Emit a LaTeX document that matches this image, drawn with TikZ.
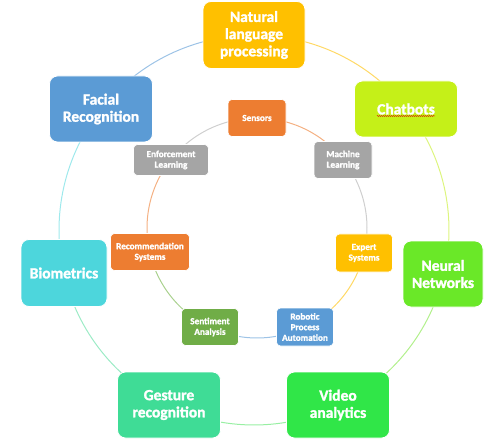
\documentclass[tikz,border=0pt]{standalone}
\usepackage{fontspec}
\setmainfont{Carlito}[BoldFont={Carlito Bold}, BoldFeatures={FakeBold=1.6}]
\usetikzlibrary{decorations.pathmorphing}
\definecolor{cNLP}{HTML}{FFC000}
\definecolor{cChat}{HTML}{C5F018}
\definecolor{cFace}{HTML}{5B9BD5}
\definecolor{cBio}{HTML}{4DD6DC}
\definecolor{cNeural}{HTML}{6AE828}
\definecolor{cVideo}{HTML}{30E648}
\definecolor{cGest}{HTML}{3FDC96}
\definecolor{cOrange}{HTML}{ED7D31}
\definecolor{cGray}{HTML}{A5A5A5}
\definecolor{cGold}{HTML}{FFC000}
\definecolor{cBlue}{HTML}{5B9BD5}
\definecolor{cGreen}{HTML}{70AD47}
\definecolor{lNLP}{HTML}{FFD966}
\definecolor{lChat}{HTML}{DDF57F}
\definecolor{lFace}{HTML}{9DC3E6}
\definecolor{lBio}{HTML}{9EE9EC}
\definecolor{lNeural}{HTML}{B2F08C}
\definecolor{lVideo}{HTML}{98EFA3}
\definecolor{lGest}{HTML}{9CEBC6}
\definecolor{lOrange}{HTML}{F4B183}
\definecolor{lGray}{HTML}{CFCFCF}
\definecolor{lGold}{HTML}{FFD966}
\definecolor{lBlue}{HTML}{9DC3E6}
\definecolor{lGreen}{HTML}{A9D18E}
\begin{document}
\begin{tikzpicture}[x=1pt,y=-1pt,
  outerbox/.style={rounded corners=8pt, draw=white, line width=0.8pt, text=white,
    font=\bfseries\fontsize{15.5}{17.2}\selectfont, align=center, inner sep=0pt},
  innerbox/.style={rounded corners=4pt, draw=white, line width=0.6pt, text=white,
    font=\bfseries\fontsize{9.2}{10.6}\selectfont, align=center, inner sep=0pt},
  ring/.style={line width=1pt}]
\useasboundingbox (0,0) rectangle (500,446);
\coordinate (oc) at (254,230);
\coordinate (ic) at (257,228);
% outer ring (drawn first, covered by the boxes)
\draw[ring, lFace]   (oc) ++(-141.43:195) arc[start angle=-141.43, end angle=-90, radius=195];
\draw[ring, lNLP]    (oc) ++(-90:195) arc[start angle=-90, end angle=-38.57, radius=195];
\draw[ring, lChat]   (oc) ++(-38.57:195) arc[start angle=-38.57, end angle=12.86, radius=195];
\draw[ring, lNeural] (oc) ++(12.86:195) arc[start angle=12.86, end angle=64.29, radius=195];
\draw[ring, lVideo]  (oc) ++(64.29:195) arc[start angle=64.29, end angle=115.71, radius=195];
\draw[ring, lGest]   (oc) ++(115.71:195) arc[start angle=115.71, end angle=167.14, radius=195];
\draw[ring, lBio]    (oc) ++(167.14:195) arc[start angle=167.14, end angle=218.57, radius=195];
% inner ring
\draw[ring, lGray]   (ic) ++(-141.43:110) arc[start angle=-141.43, end angle=-90, radius=110];
\draw[ring, lOrange] (ic) ++(-90:110) arc[start angle=-90, end angle=-38.57, radius=110];
\draw[ring, lGray]   (ic) ++(-38.57:110) arc[start angle=-38.57, end angle=12.86, radius=110];
\draw[ring, lGold]   (ic) ++(12.86:110) arc[start angle=12.86, end angle=64.29, radius=110];
\draw[ring, lBlue]   (ic) ++(64.29:110) arc[start angle=64.29, end angle=115.71, radius=110];
\draw[ring, lGreen]  (ic) ++(115.71:110) arc[start angle=115.71, end angle=167.14, radius=110];
\draw[ring, lOrange] (ic) ++(167.14:110) arc[start angle=167.14, end angle=218.57, radius=110];
% outer boxes
\node[outerbox, fill=cNLP, minimum width=102pt, minimum height=67pt] (nlp) at (254,35) {Natural\\language\\processing};
\node[outerbox, fill=cChat, minimum width=103pt, minimum height=56pt] (chat) at (406,109) {Chatbots};
\node[outerbox, fill=cNeural, minimum width=80pt, minimum height=66pt] (neural) at (443,274) {Neural\\Networks};
\node[outerbox, fill=cVideo, minimum width=103pt, minimum height=66pt] (video) at (338,405) {Video\\analytics};
\node[outerbox, fill=cGest, minimum width=103pt, minimum height=66pt] (gest) at (169,405) {Gesture\\recognition};
\node[outerbox, fill=cBio, minimum width=86pt, minimum height=67pt] (bio) at (64,273) {Biometrics};
\node[outerbox, fill=cFace, minimum width=103pt, minimum height=66pt] (face) at (101,109) {Facial\\Recognition};
% spell-check underline
\draw[red!85!black, line width=0.4pt, decorate, decoration={snake, amplitude=0.5pt, segment length=2pt}]
  ([xshift=-29pt,yshift=-7pt]chat.center) -- ([xshift=29pt,yshift=-7pt]chat.center);
% inner boxes
\node[innerbox, fill=cOrange, minimum width=58pt, minimum height=37pt] (sens) at (257,118) {Sensors};
\node[innerbox, fill=cGray, minimum width=58pt, minimum height=37pt] (ml) at (343,160) {Machine\\Learning};
\node[innerbox, fill=cGold, minimum width=57pt, minimum height=38pt] (exp) at (364,253) {Expert\\Systems};
\node[innerbox, fill=cBlue, minimum width=57pt, minimum height=38pt] (rpa) at (305,327) {Robotic\\Process\\Automation};
\node[innerbox, fill=cGreen, minimum width=57pt, minimum height=37pt] (sent) at (210,327) {Sentiment\\Analysis};
\node[innerbox, fill=cOrange, minimum width=79pt, minimum height=37pt] (rec) at (150,252) {Recommendation\\Systems};
\node[innerbox, fill=cGray, minimum width=75pt, minimum height=31pt] (enf) at (171,160) {Enforcement\\Learning};
\end{tikzpicture}
\end{document}
